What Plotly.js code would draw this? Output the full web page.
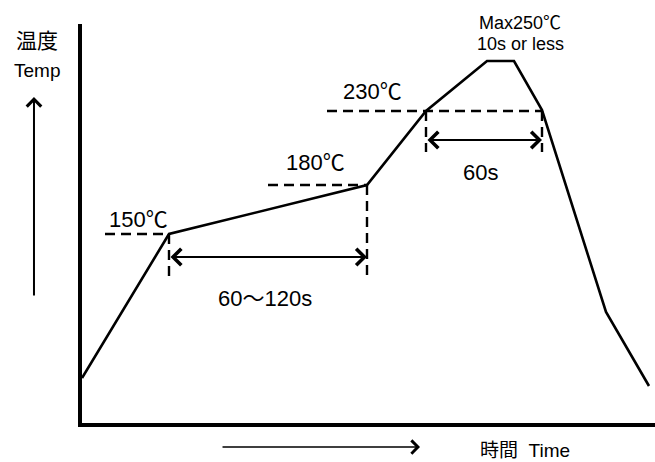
<!DOCTYPE html>
<html>
<head>
<meta charset="utf-8">
<script src="https://cdn.plot.ly/plotly-3.0.1.min.js"></script>
<style>html,body{margin:0;padding:0;background:#fff;}#chart{width:655px;height:462px;}</style>
</head>
<body>
<div id="chart"></div>
<script>
// Schematic reflow profile (arbitrary time / temperature units)
var profileTime = [0, 87, 285, 344, 405, 432, 460, 524, 567];
var profileTemp = [45, 189, 238, 312, 362, 362, 313, 111, 37];

// Reference temperature levels and labels
var levelLabels = ['150℃', '180℃', '230℃'];
var levelTemp = [189, 238, 312];
var levelStart = [23, 186, 245];      // where each dashed level line begins
var levelEnd = [87, 285, 460];        // where each dashed level line ends

// Time windows for the dimension arrows
var windowLabels = ['60～120s', '60s'];
var windowStart = [87, 344];
var windowEnd = [285, 460];
var windowArrowTemp = [166, 283];
var windowDropTo = [143, 271];

var peakLabel = ['Max250℃', '10s or less'];
var axisLabelY = ['温度', 'Temp'];
var axisLabelX = '時間\u00a0\u00a0Time';

var CJK = '"Noto Sans CJK JP", sans-serif';
var LAT = '"Liberation Sans", Arial, "Noto Sans CJK JP", sans-serif';

function degC(s) {
  return s.replace('℃', '<span style="font-family:' + "'Noto Sans CJK JP'" + '">℃</span>');
}

var DASH = '10px,6px';
var traces = [];
traces.push({
  x: profileTime, y: profileTemp, type: 'scatter', mode: 'lines',
  line: {color: '#000', width: 2.6}, hoverinfo: 'skip', showlegend: false, cliponaxis: false
});
for (var i = 0; i < levelTemp.length; i++) {
  traces.push({
    x: [levelStart[i], levelEnd[i]], y: [levelTemp[i], levelTemp[i]],
    type: 'scatter', mode: 'lines', line: {color: '#000', width: 2.4, dash: DASH},
    hoverinfo: 'skip', showlegend: false
  });
}
var dropTops = [[levelTemp[0], levelTemp[1]], [levelTemp[2], levelTemp[2]]];
for (var j = 0; j < windowStart.length; j++) {
  [windowStart[j], windowEnd[j]].forEach(function (xv, k) {
    traces.push({
      x: [xv, xv], y: [dropTops[j][k], windowDropTo[j]],
      type: 'scatter', mode: 'lines', line: {color: '#000', width: 2.4, dash: DASH},
      hoverinfo: 'skip', showlegend: false
    });
  });
}

function label(x, y, ref, text, family, size) {
  return {x: x, y: y, xref: ref, yref: ref, text: text, showarrow: false,
    xanchor: 'center', yanchor: 'middle', font: {family: family, size: size, color: '#000'}};
}

var ann = [];
var levelLabelPos = [[56, 206], [233, 263], [290, 334]];
for (var a = 0; a < levelLabels.length; a++) {
  var l = label(levelLabelPos[a][0], levelLabelPos[a][1], 'x', degC(levelLabels[a]), LAT, 22);
  l.yref = 'y';
  ann.push(l);
}
var windowLabelPos = [[183, 125], [398, 251]];
for (var b = 0; b < windowStart.length; b++) {
  ann.push({x: windowEnd[b], y: windowArrowTemp[b], ax: windowStart[b], ay: windowArrowTemp[b],
    xref: 'x', yref: 'y', axref: 'x', ayref: 'y', text: '', showarrow: true,
    arrowhead: 4, startarrowhead: 4, arrowside: 'end+start', arrowwidth: 2.2, arrowsize: 1.45,
    startarrowsize: 1.45, arrowcolor: '#000', standoff: 0, startstandoff: 0});
  var w = label(windowLabelPos[b][0], windowLabelPos[b][1], 'x', windowLabels[b], LAT, 22);
  w.yref = 'y';
  ann.push(w);
}
// Peak labels (paper coords so they can sit above the plot area)
ann.push(label(0.7644, 1.0075, 'paper', degC(peakLabel[0]), LAT, 18));
ann.push(label(0.7644, 0.950, 'paper', peakLabel[1], LAT, 18));
// Axis labels
ann.push(label(-0.0785, 0.9624, 'paper', axisLabelY[0], CJK, 21));
ann.push(label(-0.0785, 0.8847, 'paper', axisLabelY[1], LAT, 19));
ann.push(label(0.7731, -0.0677, 'paper', axisLabelX, LAT, 19));
// Direction arrows outside the axes
ann.push({x: -0.0838, y: 0.817, ax: 0, ay: 200, xref: 'paper', yref: 'paper', axref: 'pixel', ayref: 'pixel',
  text: '', showarrow: true, arrowhead: 4, arrowwidth: 2, arrowsize: 1.4, arrowcolor: '#000', standoff: 0});
ann.push({x: 0.5899, y: -0.0602, ax: -199, ay: 0, xref: 'paper', yref: 'paper', axref: 'pixel', ayref: 'pixel',
  text: '', showarrow: true, arrowhead: 4, arrowwidth: 1.7, arrowsize: 1.5, arrowcolor: '#000', standoff: 0});

var layout = {
  width: 655, height: 462,
  margin: {l: 82, r: 0, t: 24, b: 39, pad: 0},
  paper_bgcolor: '#fff', plot_bgcolor: '#fff',
  xaxis: {range: [0, 573], showline: true, linewidth: 4, linecolor: '#000', showgrid: false,
    zeroline: false, showticklabels: false, ticks: '', fixedrange: true},
  yaxis: {range: [0, 399], showline: true, linewidth: 4, linecolor: '#000', showgrid: false,
    zeroline: false, showticklabels: false, ticks: '', fixedrange: true},
  annotations: ann,
  showlegend: false
};

Plotly.newPlot('chart', traces, layout, {displayModeBar: false, staticPlot: true});
</script>
</body>
</html>
